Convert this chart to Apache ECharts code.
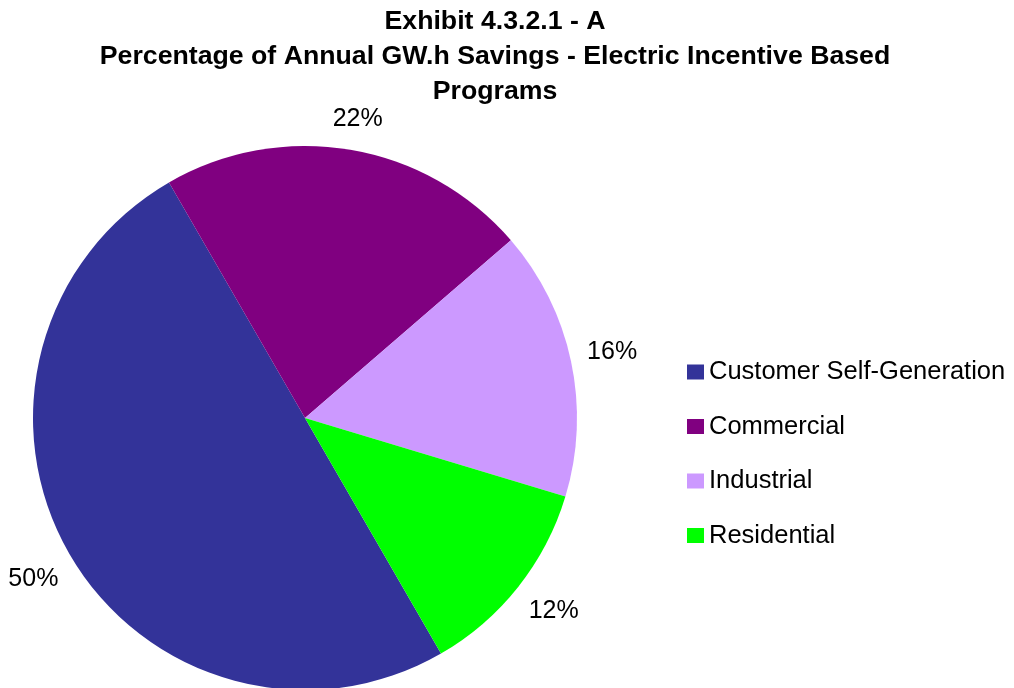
<!DOCTYPE html>
<html>
<head>
<meta charset="utf-8">
<script src="https://cdn.jsdelivr.net/npm/echarts@6/dist/echarts.min.js"></script>
<style>
  html, body { margin: 0; padding: 0; background: #fff; }
  #chart { width: 1014px; height: 688px; }
</style>
</head>
<body>
<div id="chart"></div>
<script>
// Share of annual GW.h savings by program group
const categories = ['Customer Self-Generation', 'Commercial', 'Industrial', 'Residential'];
const shares = [50, 22, 16, 12];
const colors = ['#333399', '#800080', '#CC99FF', '#00FF00'];

const titleText = 'Exhibit 4.3.2.1 - A\nPercentage of Annual GW.h Savings - Electric Incentive Based\nPrograms';

const pieData = categories.map((name, i) => ({
  name: name,
  value: shares[i],
  itemStyle: { color: colors[i] }
}));

const center = [305, 418];
const startAngle = 300;
const fontFamily = '"Liberation Sans", Arial, sans-serif';

// labels sit just outside the rim; the ones near top and bottom hug the rim a little closer
const labelNudge = [[2, 3], [0, 13], [-2, 0], [1, -3]];

const chart = echarts.init(document.getElementById('chart'), null, { renderer: 'canvas' });
chart.setOption({
  animation: false,
  backgroundColor: '#ffffff',
  title: {
    text: titleText,
    left: 490,
    textAlign: 'center',
    top: -1,
    textStyle: {
      fontFamily: fontFamily,
      fontWeight: 'bold',
      fontSize: 26.7,
      lineHeight: 35,
      color: '#000'
    }
  },
  legend: {
    orient: 'vertical',
    left: 682,
    top: 354,
    itemWidth: 17,
    itemHeight: 15,
    itemGap: 28.5,
    icon: 'rect',
    selectedMode: false,
    textStyle: {
      fontFamily: fontFamily,
      fontSize: 25.5,
      color: '#000'
    },
    data: categories
  },
  series: [
    {
      type: 'pie',
      center: center,
      radius: [0, 272],
      startAngle: startAngle,
      clockwise: true,
      silent: true,
      label: { show: false },
      labelLine: { show: false },
      data: pieData
    },
    {
      // transparent ring that only carries the percentage labels
      type: 'pie',
      center: center,
      radius: [272, 354],
      startAngle: startAngle,
      clockwise: true,
      silent: true,
      legendHoverLink: false,
      itemStyle: { color: 'rgba(0,0,0,0)' },
      label: {
        show: true,
        position: 'inside',
        formatter: '{c}%',
        fontFamily: fontFamily,
        fontSize: 25,
        color: '#000'
      },
      labelLine: { show: false },
      data: categories.map((name, i) => ({
        name: name + ' ',
        value: shares[i],
        label: { offset: labelNudge[i] }
      }))
    }
  ]
});
</script>
</body>
</html>
